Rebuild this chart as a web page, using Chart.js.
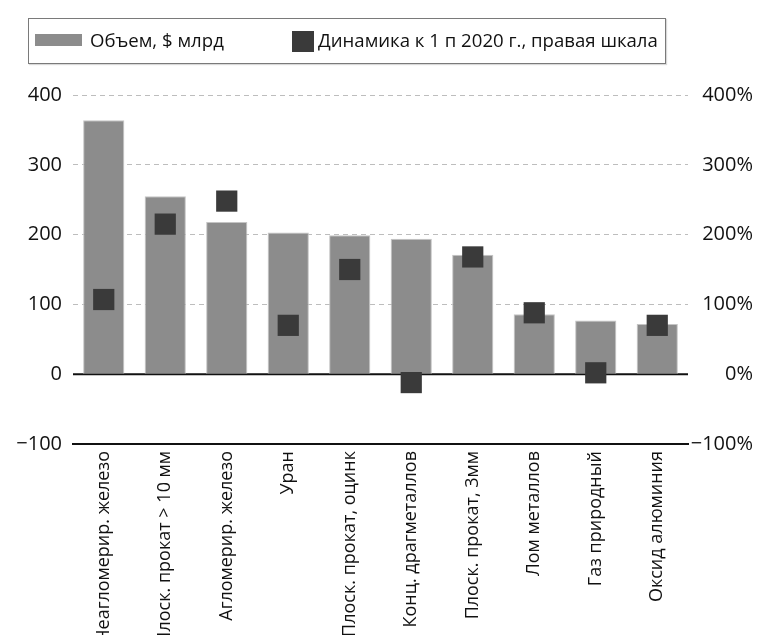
<!DOCTYPE html>
<html>
<head>
<meta charset="utf-8">
<script src="https://cdn.jsdelivr.net/npm/chart.js@4"></script>
<style>
    body { margin: 0; background: #fff; }
    #wrap { position: relative; width: 763px; height: 635px; overflow: hidden; }
    #legend {
        position: absolute; left: 28px; top: 18px; width: 638px; height: 46px;
        border: 1px solid #7a7a7a; box-sizing: border-box; background: #fff;
        box-shadow: 1px 1px 1px rgba(0,0,0,0.15);
        font-family: 'Open Sans', sans-serif; font-size: 18.6px; color: #111;
    }
    #legend .sw { position: absolute; }
    #legend .txt { position: absolute; top: 8px; line-height: 25px; white-space: nowrap; }
</style>
</head>
<body>
<div id="wrap">
    <canvas id="chart" width="763" height="635"></canvas>
    <div id="legend"></div>
</div>
<script>
const categories = [
    'Неагломерир. железо',
    'Плоск. прокат > 10 мм',
    'Агломерир. железо',
    'Уран',
    'Плоск. прокат, оцинк',
    'Конц. драгметаллов',
    'Плоск. прокат, 3мм',
    'Лом металлов',
    'Газ природный',
    'Оксид алюминия'
];
const volumeLabel = 'Объем, $ млрд';
const volume = [364, 255, 218, 203, 199, 194, 171, 86, 77, 72];
const dynamicsLabel = 'Динамика к 1 п 2020 г., правая шкала';
const dynamics = [107, 215, 248, 70, 150, -12, 168, 88, 2, 70];
const leftTicks = [-100, 0, 100, 200, 300, 400];
const rightTicks = [-100, 0, 100, 200, 300, 400];

const FONT = "'Open Sans', sans-serif";
const minus = s => String(s).replace('-', '\u2212');

// legend as html, box drawn like the original
const legend = document.getElementById('legend');
legend.innerHTML =
    `<div class="sw" style="left:6px;top:15px;width:47px;height:12px;background:#8c8c8c"></div>` +
    `<div class="txt" style="left:61px">${volumeLabel}</div>` +
    `<div class="sw" style="left:263px;top:12px;width:22px;height:21px;background:#3a3a3a"></div>` +
    `<div class="txt" style="left:289px">${dynamicsLabel}</div>`;

// solid black line at zero, under the bars and markers
const zeroLine = {
    id: 'zeroLine',
    beforeDatasetsDraw(chart) {
        const { ctx, chartArea, scales } = chart;
        const y = scales.y.getPixelForValue(0);
        ctx.save();
        ctx.strokeStyle = '#111';
        ctx.lineWidth = 2;
        ctx.beginPath();
        ctx.moveTo(chartArea.left, y);
        ctx.lineTo(chartArea.right, y);
        ctx.stroke();
        ctx.restore();
    }
};

const ctx = document.getElementById('chart').getContext('2d');
new Chart(ctx, {
    data: {
        labels: categories,
        datasets: [
            {
                type: 'line',
                label: dynamicsLabel,
                data: dynamics,
                yAxisID: 'y2',
                showLine: false,
                pointStyle: 'rect',
                pointRadius: 15,
                pointBackgroundColor: '#3a3a3a',
                pointBorderWidth: 0,
                order: 0
            },
            {
                type: 'bar',
                label: volumeLabel,
                data: volume,
                yAxisID: 'y',
                backgroundColor: '#8c8c8c',
                borderColor: '#c4c4c4',
                borderWidth: 1,
                barPercentage: 0.67,
                categoryPercentage: 1,
                order: 1
            }
        ]
    },
    options: {
        responsive: false,
        animation: false,
        events: [],
        layout: { padding: { top: 95, right: 10, left: 0, bottom: 0 } },
        plugins: {
            legend: { display: false },
            tooltip: { enabled: false }
        },
        scales: {
            x: {
                offset: true,
                grid: { display: false, drawTicks: false },
                border: { display: true, color: '#111', width: 2 },
                ticks: {
                    autoSkip: false,
                    minRotation: 90,
                    maxRotation: 90,
                    padding: 7,
                    color: '#111',
                    font: { family: FONT, size: 18 }
                },
                afterFit: s => { s.height = 191; }
            },
            y: {
                position: 'left',
                min: -100,
                max: 400,
                afterBuildTicks: s => { s.ticks = leftTicks.map(v => ({ value: v })); },
                grid: { color: '#bdbdbd', lineWidth: 1, drawTicks: false },
                border: { display: false, dash: [5, 4] },
                ticks: {
                    padding: 11,
                    color: '#111',
                    font: { family: FONT, size: 20 },
                    callback: v => minus(v)
                },
                afterFit: s => { s.width = 73; }
            },
            y2: {
                position: 'right',
                min: -100,
                max: 400,
                afterBuildTicks: s => { s.ticks = rightTicks.map(v => ({ value: v })); },
                grid: { display: false, drawTicks: false },
                border: { display: false },
                ticks: {
                    padding: 11,
                    crossAlign: 'far',
                    color: '#111',
                    font: { family: FONT, size: 20 },
                    callback: v => minus(v) + '%'
                },
                afterFit: s => { s.width = 65; }
            }
        }
    },
    plugins: [zeroLine]
});
</script>
</body>
</html>
